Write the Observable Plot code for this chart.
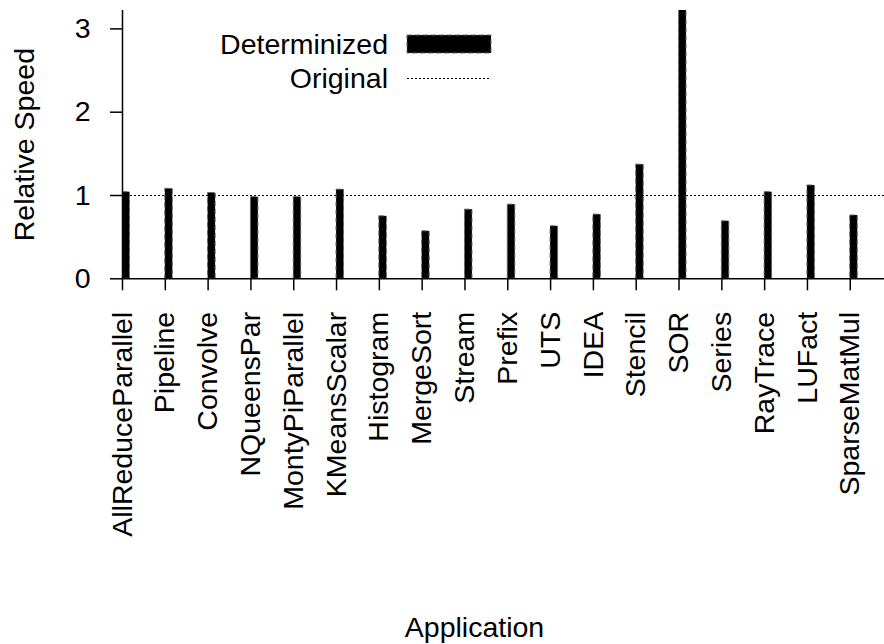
<!DOCTYPE html>
<html>
<head>
<meta charset="utf-8">
<script src="https://cdn.jsdelivr.net/npm/d3@7"></script>
<script src="https://cdn.jsdelivr.net/npm/@observablehq/plot@0.6"></script>
<style>
  html, body { margin: 0; padding: 0; background: white; }
  #wrap { position: relative; width: 884px; height: 644px; }
  #wrap svg { position: absolute; left: 0; top: 0; }
</style>
</head>
<body>
<div id="wrap"></div>
<script>
const apps = ["AllReduceParallel", "Pipeline", "Convolve", "NQueensPar", "MontyPiParallel",
  "KMeansScalar", "Histogram", "MergeSort", "Stream", "Prefix", "UTS", "IDEA", "Stencil",
  "SOR", "Series", "RayTrace", "LUFact", "SparseMatMul"];
const determinized = [1.04, 1.08, 1.03, 0.98, 0.98, 1.07, 0.75, 0.57, 0.83, 0.89, 0.63, 0.77,
  1.37, 3.5, 0.69, 1.04, 1.12, 0.76];
const original = [1];
const yTicks = [0, 1, 2, 3];
const legendLabels = ["Determinized", "Original"];

const data = apps.map((app, i) => ({i, app, v: determinized[i]}));
const font = "'Liberation Sans', Arial, sans-serif";
const fs = 28.5;

const chart = Plot.plot({
  width: 884,
  height: 644,
  marginLeft: 122,
  marginRight: 0,
  marginTop: 10,
  marginBottom: 365.7,
  x: {type: "linear", domain: [0, 17.8]},
  y: {domain: [0, 3.221]},
  style: {fontFamily: font, fontSize: fs + "px", color: "black", background: "white"},
  marks: [
    Plot.ruleY(original, {stroke: "black", strokeWidth: 1, strokeDasharray: "2,2"}),
    Plot.rectY(data, {x1: "i", x2: d => d.i + 0.175, y1: 0, y2: "v", fill: "black",
      stroke: "#666", strokeWidth: 1, strokeDasharray: "5,3", clip: true}),
    Plot.ruleY([0], {stroke: "black", strokeWidth: 1.5}),
    Plot.ruleX([0], {stroke: "black", strokeWidth: 1.5}),
    Plot.axisY({ticks: yTicks, tickFormat: d3.format("d"), tickSize: 12, tickPadding: 20,
      label: null, fontSize: fs, strokeWidth: 1.5}),
    Plot.axisX({ticks: d3.range(apps.length), tickFormat: i => apps[i], tickRotate: -90,
      tickSize: 12, tickPadding: 21, label: null, fontSize: fs, strokeWidth: 1.5}),
    Plot.text(["Relative Speed"], {frameAnchor: "left", rotate: -90, dx: -98, fontSize: fs,
      textAnchor: "middle", lineAnchor: "middle"}),
    Plot.text(["Application"], {frameAnchor: "bottom", dx: -29, dy: 349, fontSize: fs,
      textAnchor: "middle", lineAnchor: "middle"})
  ]
});
document.getElementById("wrap").appendChild(chart);

// legend overlay
const leg = d3.select("#wrap").append("svg")
  .attr("width", 884).attr("height", 644)
  .style("pointer-events", "none")
  .style("font-family", font).style("font-size", fs + "px");
leg.append("text").attr("x", 388).attr("y", 44).attr("text-anchor", "end")
  .attr("dominant-baseline", "central").text(legendLabels[0]);
leg.append("rect").attr("x", 407).attr("y", 35).attr("width", 84).attr("height", 18)
  .attr("fill", "black").attr("stroke", "#666").attr("stroke-dasharray", "5,3");
leg.append("text").attr("x", 388).attr("y", 78).attr("text-anchor", "end")
  .attr("dominant-baseline", "central").text(legendLabels[1]);
leg.append("line").attr("x1", 407).attr("x2", 489).attr("y1", 78.5).attr("y2", 78.5)
  .attr("stroke", "black").attr("stroke-dasharray", "2,2");
</script>
</body>
</html>
